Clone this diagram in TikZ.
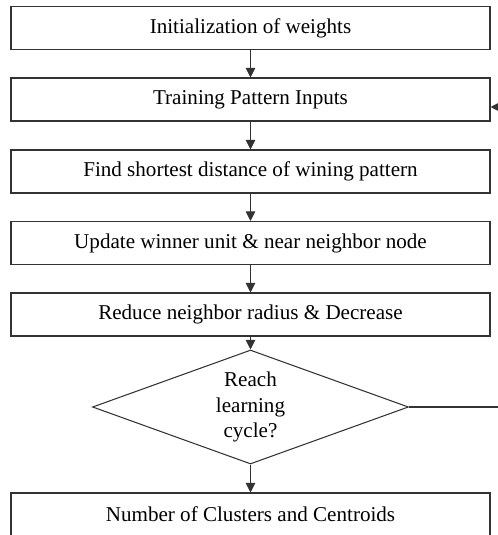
\documentclass[tikz,border=0pt]{standalone}
\usepackage{fontspec}
\setmainfont{Liberation Serif}
\usetikzlibrary{arrows.meta,shapes.geometric}

\begin{document}
\begin{tikzpicture}[
    stepbox/.style={draw=black!80, line width=0.6pt, minimum width=9.58cm,
      minimum height=0.86cm, inner sep=0pt,
      font=\fontsize{12}{14.7}\selectfont},
    testbox/.style={draw=black!80, line width=0.6pt, diamond, aspect=2.77,
      minimum width=6.32cm, minimum height=2.28cm, inner sep=0pt, align=center,
      font=\fontsize{12}{14.7}\selectfont},
    flow/.style={line width=0.6pt, draw=black!80,
      -{Triangle[length=5.5pt,width=5.5pt]}}]
  \useasboundingbox (0, 0) rectangle (9.96, -10.7);

  % Steps
  \node [stepbox] (init) at (5.01, -0.56) {Initialization of weights};
  \node [stepbox] (train) at (5.01, -1.99) {Training Pattern Inputs};
  \node [stepbox] (find) at (5.01, -3.43) {Find shortest distance of wining pattern};
  \node [stepbox] (update) at (5.01, -4.86) {Update winner unit \& near neighbor node};
  \node [stepbox] (reduce) at (5.01, -6.29) {Reduce neighbor radius \& Decrease};

  % Decision
  \node [testbox] (cycle) at (5.01, -8.14) {Reach\\learning\\cycle?};

  % Result
  \node [stepbox] (result) at (5.01, -10.29) {Number of Clusters and Centroids};

  % Edges
  \draw [flow] (init) -- (train);
  \draw [flow] (train) -- (find);
  \draw [flow] (find) -- (update);
  \draw [flow] (update) -- (reduce);
  \draw [flow] (reduce) -- (cycle);
  \draw [flow] (cycle) -- (result);

  % Loop back
  \coordinate (loopout) at (9.96, -8.14);
  \coordinate (loopin) at (9.96, -2.14);
  \draw [line width=0.6pt, draw=black!80] (cycle.east) -- (loopout);
  \draw [flow] (loopin) -- (train.east |- loopin);
\end{tikzpicture}
\end{document}
